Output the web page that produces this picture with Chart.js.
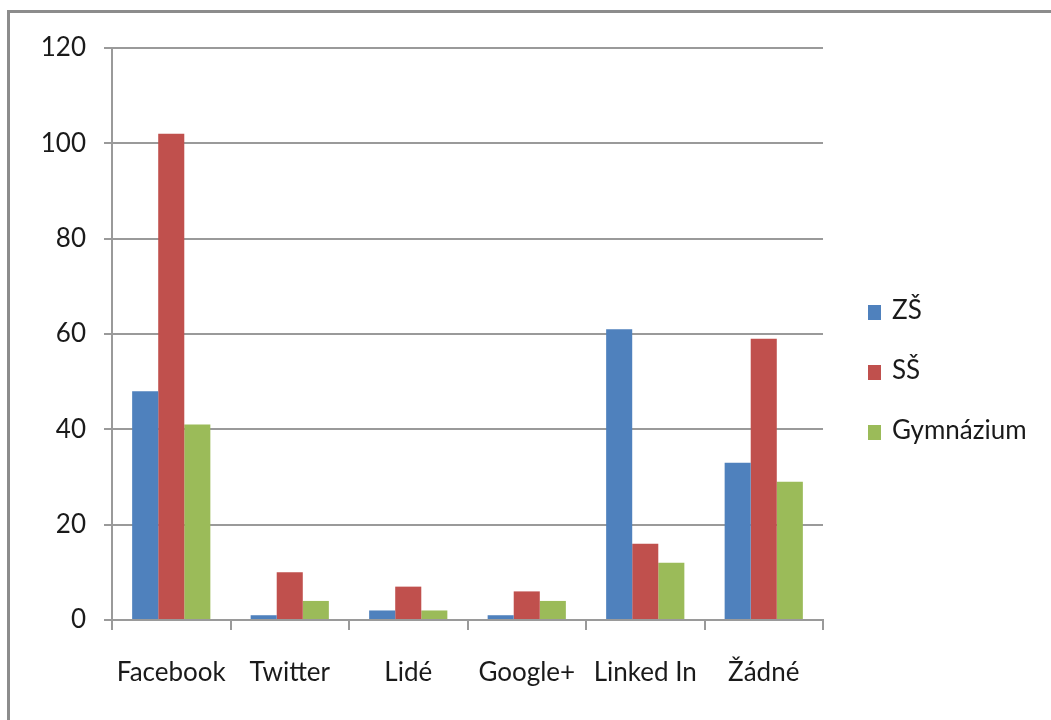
<!DOCTYPE html>
<html>
<head>
<meta charset="utf-8">
<script src="https://cdn.jsdelivr.net/npm/chart.js@4.4.0/dist/chart.umd.min.js"></script>
<style>
  html, body { margin: 0; padding: 0; background: #fff; }
  #wrap { position: relative; width: 1051px; height: 720px; overflow: hidden; }
  #frame { position: absolute; left: 7px; top: 10px; right: -10px; bottom: -10px;
           border-left: 3px solid #8c8c8c; border-top: 3px solid #8c8c8c; }
  #chart { position: absolute; left: 0; top: 0; }
  #legend { position: absolute; left: 868px; top: 289px; font-family: Lato, sans-serif;
            font-size: 26px; color: #1a1a1a; }
  #legend div { height: 60px; line-height: 40px; white-space: nowrap; }
  #legend span.box { display: inline-block; width: 13px; height: 15px; margin-right: 11px;
                     vertical-align: -1px; }
</style>
</head>
<body>
<div id="wrap">
  <div id="frame"></div>
  <canvas id="chart" width="1051" height="720"></canvas>
  <div id="legend"></div>
</div>
<script>
var categories = ['Facebook', 'Twitter', 'Lidé', 'Google+', 'Linked In', 'Žádné']
var seriesNames = ['ZŠ', 'SŠ', 'Gymnázium']
var zs = [48, 1, 2, 1, 61, 33]
var ss = [102, 10, 7, 6, 16, 59]
var gym = [41, 4, 2, 4, 12, 29]
var colors = ['#4f81bd', '#c0504d', '#9bbb59']

var values = [zs, ss, gym]
var datasets = seriesNames.map(function(name, i) {
  return {
    label: name,
    data: values[i],
    backgroundColor: colors[i],
    borderWidth: 0,
    categoryPercentage: 0.66,
    barPercentage: 1
  }
})

var fontSpec = { family: 'Lato, sans-serif', size: 26 }

new Chart(document.getElementById('chart').getContext('2d'), {
  type: 'bar',
  data: { labels: categories, datasets: datasets },
  options: {
    responsive: false,
    animation: false,
    layout: { padding: { top: 48, right: 228, left: 0, bottom: 0 } },
    plugins: { legend: { display: false }, tooltip: { enabled: false } },
    scales: {
      x: {
        grid: { offset: true, drawOnChartArea: false, color: '#9a9a9a', lineWidth: 2, tickLength: 10 },
        border: { color: '#9a9a9a', width: 2 },
        ticks: { color: '#1a1a1a', font: fontSpec, padding: 27, maxRotation: 0, autoSkip: false },
        afterFit: function(s) { s.height = 100 }
      },
      y: {
        min: 0,
        max: 120,
        ticks: { stepSize: 20, color: '#1a1a1a', font: fontSpec, padding: 18 },
        grid: { color: '#9a9a9a', lineWidth: 2, tickLength: 8 },
        border: { color: '#9a9a9a', width: 2 },
        afterFit: function(s) { s.width = 112 }
      }
    }
  }
})

var legend = document.getElementById('legend')
seriesNames.forEach(function(name, i) {
  var row = document.createElement('div')
  var box = document.createElement('span')
  box.className = 'box'
  box.style.background = colors[i]
  row.appendChild(box)
  row.appendChild(document.createTextNode(name))
  legend.appendChild(row)
})
</script>
</body>
</html>
